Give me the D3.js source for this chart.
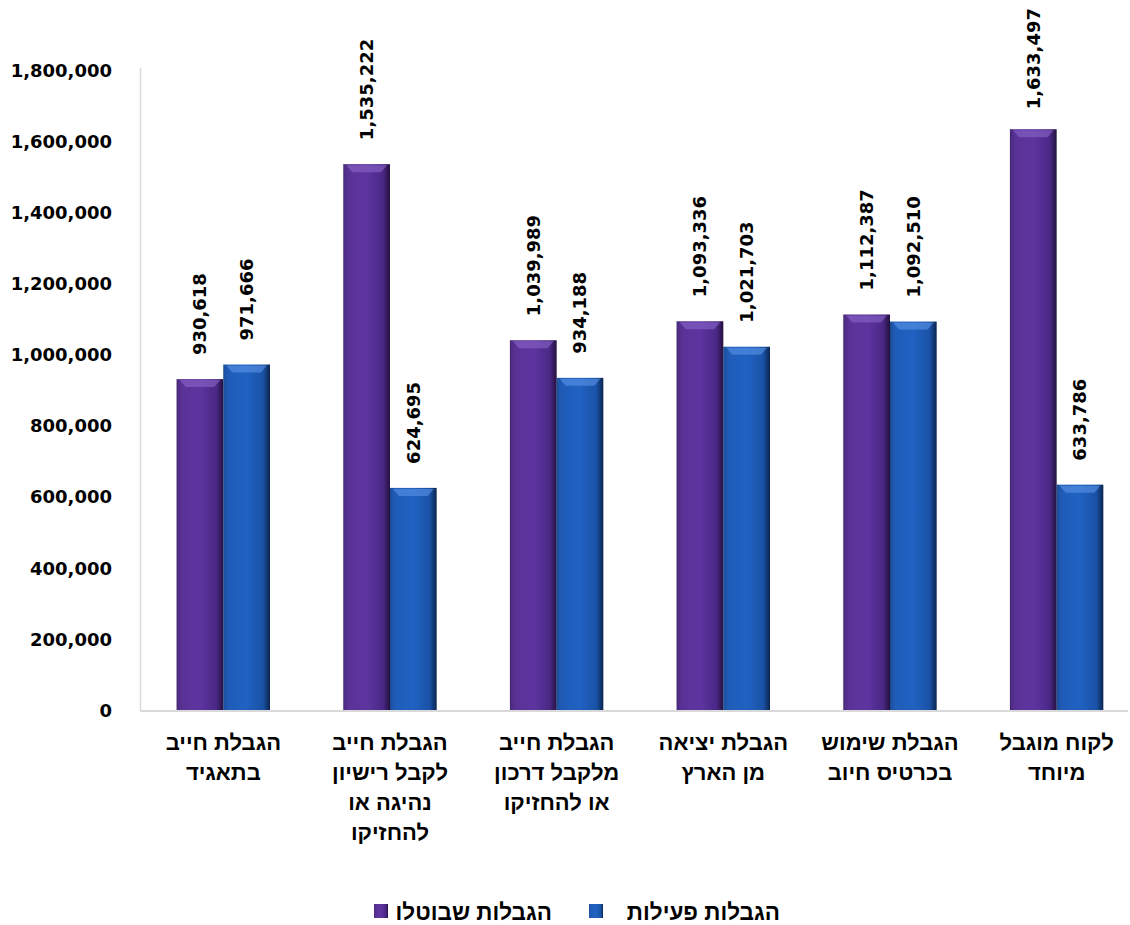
<!DOCTYPE html>
<html><head><meta charset="utf-8">
<script src="https://cdn.jsdelivr.net/npm/d3@7"></script>
<style>
body{margin:0;background:#fff;}
text{font-family:"Liberation Sans","Open Sans","DejaVu Sans",sans-serif;font-weight:700;fill:#000;}
text.num{font-family:"DejaVu Sans",sans-serif;}
</style></head>
<body>
<svg id="c" width="1130" height="925"></svg>
<script>
const categories = [
  ["הגבלת חייב","בתאגיד"],
  ["הגבלת חייב","לקבל רישיון","נהיגה או","להחזיקו"],
  ["הגבלת חייב","מלקבל דרכון","או להחזיקו"],
  ["הגבלת יציאה","מן הארץ"],
  ["הגבלת שימוש","בכרטיס חיוב"],
  ["לקוח מוגבל","מיוחד"]
];
const seriesNames = ["הגבלות שבוטלו","הגבלות פעילות"];
const cancelled = [930618, 1535222, 1039989, 1093336, 1112387, 1633497];
const active = [971666, 624695, 934188, 1021703, 1092510, 633786];
const yTicks = [0,200000,400000,600000,800000,1000000,1200000,1400000,1600000,1800000];

const svg = d3.select("#c");
const defs = svg.append("defs");
function grad(id, stops){
  const g = defs.append("linearGradient").attr("id",id).attr("x1","0").attr("x2","1").attr("y1","0").attr("y2","0");
  stops.forEach(s=>g.append("stop").attr("offset",s[0]).attr("stop-color",s[1]));
}
grad("gP",[[0,"#4a2a7e"],[0.12,"#5a3296"],[0.5,"#5e35a0"],[0.85,"#4a2886"],[1,"#24113f"]]);
grad("gB",[[0,"#1d4f9c"],[0.12,"#1f5cb8"],[0.5,"#2062c2"],[0.85,"#1a52a6"],[1,"#0b2550"]]);
const fills = ["url(#gP)","url(#gB)"];
const tops = ["#8a66c8","#5c95e6"];

const fmt = d3.format(",");
const y = d3.scaleLinear().domain([0,1800000]).range([710,70]);
const x0 = d3.scaleBand().domain(d3.range(categories.length)).range([140,1140]).paddingInner(0.44).paddingOuter(0.22);
const x1 = d3.scaleBand().domain([0,1]).range([0,x0.bandwidth()]);

// axes lines
svg.append("line").attr("x1",140.5).attr("x2",140.5).attr("y1",68).attr("y2",711).attr("stroke","#d9d9d9").attr("stroke-width",1.5);
svg.append("line").attr("x1",140).attr("x2",1128).attr("y1",711).attr("y2",711).attr("stroke","#d9d9d9").attr("stroke-width",2);

// y tick labels
const yAxis = d3.axisLeft(y).tickValues(yTicks).tickFormat(fmt).tickSize(0).tickPadding(0);
const ga = svg.append("g").attr("transform","translate(112,0)").call(yAxis);
ga.select(".domain").remove();
ga.selectAll("text").attr("class","num").attr("font-size",18).attr("dy","0.35em").style("font-family",'"DejaVu Sans",sans-serif').style("font-weight",700);

const data = categories.map((c,i)=>({i, vals:[cancelled[i],active[i]]}));
const groups = svg.selectAll("g.grp").data(data).join("g").attr("class","grp")
  .attr("transform",d=>`translate(${x0(d.i)},0)`);

groups.each(function(d){
  const g = d3.select(this);
  d.vals.forEach((v,s)=>{
    const bx = x1(s), bw = x1.bandwidth(), by = y(v), bh = y(0)-y(v);
    g.append("rect").attr("x",bx).attr("y",by).attr("width",bw).attr("height",bh).attr("fill",fills[s]);
    // top bevel highlight
    g.append("path").attr("d",`M${bx+3},${by+1} L${bx+bw-3},${by+1} L${bx+bw-9},${by+8} L${bx+9},${by+8} Z`)
      .attr("fill",tops[s]).attr("opacity",0.6);
    g.append("line").attr("x1",bx).attr("x2",bx).attr("y1",by).attr("y2",y(0)).attr("stroke","#000").attr("stroke-opacity",0.15);
    // value label
    const t = g.append("text").attr("class","num").attr("font-size",18).attr("text-anchor","start").text(fmt(v));
    const len = t.node().getComputedTextLength();
    let start = by - 24;
    if (start - len < 8) start = 8 + len;
    t.attr("transform",`translate(${bx+bw/2},${start}) rotate(-90)`).attr("dy","0.35em");
  });
  // category labels
  const cx = x0.bandwidth()/2;
  const lbl = g.append("text").attr("text-anchor","middle").attr("font-size",22).attr("direction","rtl");
  categories[d.i].forEach((line,k)=>{
    lbl.append("tspan").attr("x",cx).attr("y",750 + k*30).text(line);
  });
});

// legend
const leg = svg.append("g");
const legItems = [
  {name:seriesNames[0], sx:374, tx:552, fill:fills[0]},
  {name:seriesNames[1], sx:589, tx:780, fill:fills[1]}
];
legItems.forEach(it=>{
  leg.append("rect").attr("x",it.sx).attr("y",904).attr("width",14).attr("height",14).attr("fill",it.fill);
  leg.append("text").attr("x",it.tx).attr("y",912).attr("dy","0.35em").attr("text-anchor","end").attr("font-size",22.5).text(it.name);
});
</script>
</body></html>
